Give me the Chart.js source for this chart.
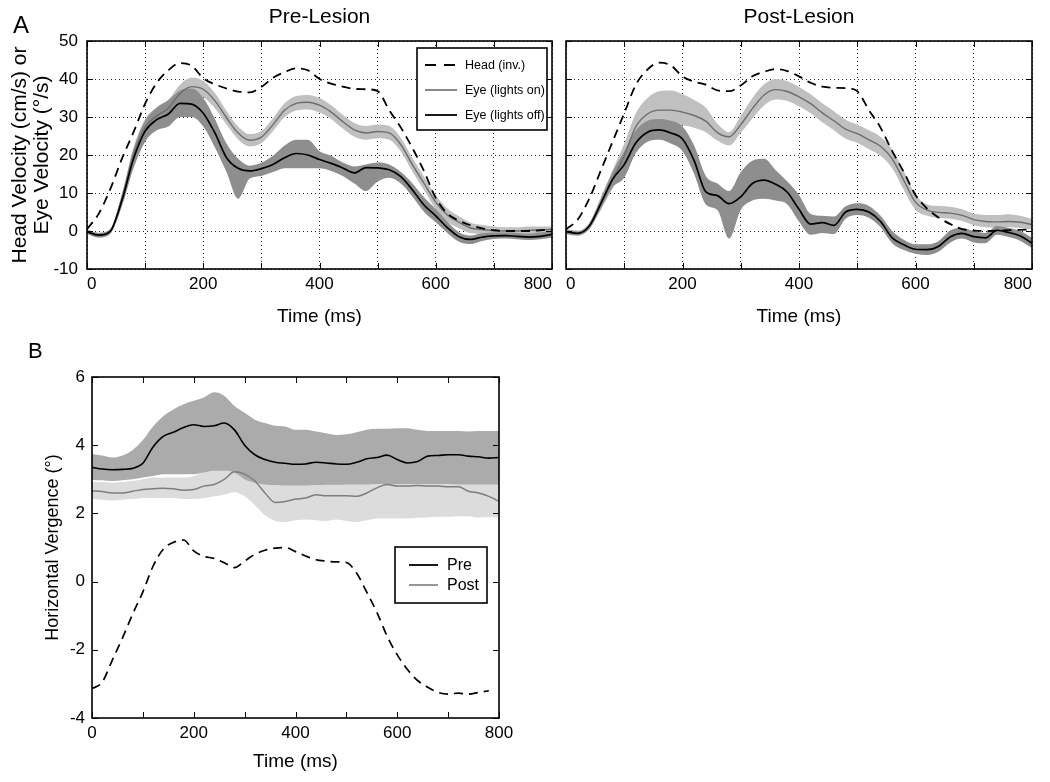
<!DOCTYPE html>
<html>
<head>
<meta charset="utf-8">
<script src="https://cdn.jsdelivr.net/npm/chart.js@4.4.0/dist/chart.umd.min.js"></script>
<style>
  body { margin: 0; background: #fff; }
  #page { position: relative; width: 1050px; height: 782px; overflow: hidden; background: #fff; }
  canvas { position: absolute; }
</style>
</head>
<body>
<div id="page">
  <canvas id="preLesion" width="580" height="345" style="left:0;top:0"></canvas>
  <canvas id="postLesion" width="490" height="345" style="left:560px;top:0"></canvas>
  <canvas id="vergence" width="530" height="452" style="left:0;top:330px"></canvas>
</div>
<script>
// time base (ms), shared by every trace
const timeMs = [0,20,40,60,80,100,120,140,160,180,200,220,240,260,280,300,320,340,360,380,400,
  420,440,460,480,500,520,540,560,580,600,620,640,660,680,700,720,740,760,780,800];

const xTickMs = [0,100,200,300,400,500,600,700,800];
const velTicks = [-10,0,10,20,30,40,50];
const vergTicks = [-4,-2,0,2,4,6];

// ---- panel A, pre-lesion
const preHead = [0.5,4.5,11,19,26,33.5,39,42.3,44.2,43.5, 40.2,38.6,37.5,36.7,36.5,37.9,40.3,41.8,42.8,42.3,
  40,38.8,38,37.4,37.3,36.8,31.8,27.2,21.8,15.7, 8.7,4.6,2.7,1.5,0.7,0.2,0,0,0,0.2, 0.4];
const preEyeOn = [-0.2,-1.1,-0.1,8.5,20,27.3,30.3,32.3,36.2,38, 37.3,34.3,29.8,25.8,23.9,24.7,28,31.8,33.6,33.9,
  33.1,31.3,28.8,26.6,25.8,26.2,25.8,22.7,17.4,12.5, 7.6,4.2,2.3,0.8,0.4,0.1,0,0,0.2,0.3, 0.4];
const preEyeOnUp = [0.4,-0.5,0.5,9.8,22,29.5,32.5,34.5,38.5,40.3, 39.5,36.3,31.6,27.5,25.5,26.3,29.7,33.6,35.5,35.8,
  35,33.1,30.6,28.4,27.6,28,27.6,24.5,19.2,14.3, 9.4,5.9,3.9,2.2,1.6,1.2,1,1,1.2,1.2, 1.2];
const preEyeOnLo = [-0.8,-1.7,-0.7,7.2,18,25,28,30,34,35.8, 35.2,32.3,28,24.1,22.3,23.1,26.3,30,31.7,32,
  31.2,29.5,27,24.8,24,24.4,24,20.9,15.6,10.7, 5.8,2.5,0.7,-0.6,-0.8,-1,-1,-1,-0.8,-0.6, -0.4];
const preEyeOff = [-0.2,-1.1,-0.1,8,19,26.3,29.3,30.8,33.6,33.4, 31,25.8,19.3,16.5,15.8,16.4,17.5,19.3,20.4,20,
  18.8,17.8,16.6,15.3,16.7,16.6,16.1,14.3,10.8,6.8, 4,0.9,-1.5,-2.2,-1.6,-1.3,-1.2,-1.4,-1.6,-1.4, -0.9];
const preEyeOffUp = [0.3,-0.5,0.5,9.5,21.5,29,32.5,34.5,37,37.5, 35,29.5,23,19,17.2,18,19.8,22.5,24,24,
  21,19.8,18,17,17.5,18,17.5,15.5,12.5,8.8, 5.8,2.5,-0.3,-1.2,-0.6,-0.4,-0.4,-0.5,-0.7,-0.4, 0];
const preEyeOffLo = [-0.7,-1.7,-0.7,6.5,16.5,23.5,26.5,27.5,30,30, 27.5,22,15.5,8.5,13.8,14.5,15.5,16.5,16.5,16.5,
  16.5,15.8,14.5,12.5,10.5,13,14,12.5,9,5, 2.3,-0.5,-2.8,-3.4,-2.6,-2.1,-2,-2.2,-2.4,-2.2, -1.7];

// ---- panel A, post-lesion
const postHead = [0.4,3,8.5,16,23.5,31,38.5,42.5,44.3,43.6, 40.7,39.3,38.5,37,36.8,38.3,40.7,41.9,42.6,42.1,
  40.7,39,38,37.7,37.6,36.8,31.8,27.2,21,15.5, 9.5,5.9,3.5,1.8,0.5,0.1,0,0.1,0.2,0.3, 0.4];
const postEyeOn = [-0.2,-0.6,1.3,7.3,13.6,19.8,27.5,30.8,31.8,31.8, 31.3,30.4,28.9,25.9,24.8,28,32.2,35.8,37.2,36.7,
  35.3,33.5,31.1,29,26.8,25.6,24,22.3,19,13.3, 7.6,5.5,4.9,4.7,4.1,3,2.5,2.4,2.5,2.3, 1.7];
const postEyeOnUp = [0.5,0.1,2.2,9,16,23,31,35,36.8,37, 36,34.5,32.5,28.2,26,30.3,35,38.6,40,39.4,
  37.9,36,33.6,31.5,29.3,28,26.5,24.8,21.5,15.8, 9.6,7,6.6,6.4,5.7,4.6,4.2,4.2,4.4,4, 3.2];
const postEyeOnLo = [-0.9,-1.3,0.4,5.6,11.2,17,24.5,27.5,28,28.2, 27.8,27.2,26,23.8,22.5,25.8,29.6,33,34.6,34.2,
  32.8,31,28.6,26.5,24.3,23.2,21.5,19.8,16.5,10.8, 5.6,4,3.4,3.2,2.6,1.5,1,0.9,1,0.8, 0.4];
const postEyeOff = [-0.2,-0.6,1.3,7.3,13.6,17.5,23.2,26,26.6,25.8, 24.2,18.5,10.3,9.3,7.2,9,12.5,13.4,12.3,10.2,
  5.7,1.8,2.2,1.5,5,5.7,5,2.5,-1.8,-3.6, -4.8,-4.9,-4,-1.5,-0.6,-1.5,-1.8,0.2,-0.4,-1.3, -3.2];
const postEyeOffUp = [0.3,-0.1,2,8.5,15.5,21,26.5,29,29.5,29, 27.5,22.5,14.5,12.5,10.5,15.5,18.5,19,16,13,
  9.5,4.5,4,3.8,6.5,7.3,6.6,4,0,-2.3, -3.5,-3.5,-2.6,0.2,0.8,0,-0.5,1.3,0.8,0, -1.8];
const postEyeOffLo = [-0.7,-1.1,0.6,6,11.5,14,20.5,23.5,24,23, 21,15,7,5.5,-2,5.5,8,8.5,8,7,
  2.5,-1,-0.5,-0.8,3.2,4.2,3.5,1,-3.2,-5, -6,-6.3,-5.4,-3,-2,-3,-3.2,-1,-1.6,-2.6, -4.5];

// ---- panel B, vergence
const vergPre = [3.35,3.3,3.28,3.29,3.32,3.47,3.95,4.26,4.38,4.52, 4.6,4.55,4.57,4.65,4.45,4.0,3.72,3.58,3.5,3.47,
  3.44,3.45,3.5,3.48,3.45,3.44,3.5,3.6,3.64,3.71, 3.58,3.48,3.52,3.68,3.7,3.72,3.72,3.68,3.66,3.62, 3.64];
const vergPreUp = [3.74,3.7,3.64,3.7,3.86,4.15,4.55,4.85,5.05,5.2, 5.3,5.4,5.55,5.45,5.15,4.95,4.75,4.65,4.57,4.55,
  4.45,4.45,4.4,4.35,4.3,4.32,4.38,4.45,4.48,4.48, 4.5,4.5,4.45,4.42,4.42,4.42,4.42,4.4,4.42,4.42, 4.42];
const vergPreLo = [2.98,2.97,2.95,2.97,3.0,3.05,3.1,3.15,3.15,3.15, 3.15,3.2,3.25,3.25,3.2,3.0,2.9,2.85,2.83,2.82,
  2.82,2.82,2.83,2.84,2.84,2.85,2.85,2.85,2.86,2.86, 2.86,2.86,2.86,2.86,2.86,2.86,2.85,2.85,2.85,2.85, 2.85];
const vergPost = [2.66,2.64,2.6,2.6,2.65,2.7,2.72,2.74,2.72,2.68, 2.7,2.8,2.85,3.0,3.22,3.15,2.95,2.6,2.32,2.35,
  2.42,2.45,2.55,2.52,2.52,2.52,2.5,2.6,2.75,2.85, 2.8,2.8,2.82,2.8,2.8,2.78,2.78,2.65,2.6,2.5, 2.35];
const vergPostUp = [2.92,2.92,2.9,2.92,2.95,3.0,3.05,3.05,3.05,3.05, 3.1,3.2,3.25,3.35,3.5,3.45,3.3,3.0,2.9,2.9,
  2.95,3.0,3.05,3.05,3.05,3.05,3.05,3.1,3.2,3.3, 3.3,3.3,3.3,3.3,3.3,3.3,3.25,3.2,3.2,3.15, 3.1];
const vergPostLo = [2.42,2.4,2.38,2.4,2.42,2.45,2.45,2.45,2.45,2.42, 2.42,2.45,2.5,2.55,2.62,2.5,2.25,1.95,1.78,1.75,
  1.8,1.82,1.8,1.78,1.82,1.78,1.75,1.8,1.85,1.85, 1.85,1.85,1.87,1.88,1.9,1.9,1.92,1.92,1.88,1.9, 1.88];
const vergHead = [-3.14,-2.95,-2.3,-1.65,-0.95,-0.3,0.45,0.95,1.15,1.22, 0.9,0.74,0.68,0.55,0.41,0.6,0.8,0.92,0.98,1.0,
  0.88,0.75,0.64,0.6,0.58,0.56,0.25,-0.31,-0.9,-1.6, -2.15,-2.58,-2.9,-3.1,-3.25,-3.3,-3.27,-3.3,-3.25,-3.2, null];

const FONT = '"Liberation Sans", Arial, Helvetica, sans-serif';
Chart.defaults.font.family = FONT;
Chart.defaults.color = '#000';

const LIGHT_BAND = '#c0c0c0';
const DARK_BAND = '#8e8e8e';
const GRAY_LINE = '#6c6c6c';
const HEAD_DASH = [9, 6];

const pts = vals => vals.map((v, i) => ({ x: timeMs[i], y: v }));

function band(lo, up, color, order) {
  return [
    { data: pts(lo), borderColor: 'transparent', borderWidth: 0, pointRadius: 0, fill: false, order, cubicInterpolationMode: 'monotone' },
    { data: pts(up), borderColor: 'transparent', borderWidth: 0, pointRadius: 0, fill: '-1', backgroundColor: color, order, cubicInterpolationMode: 'monotone' }
  ];
}

function trace(vals, color, width, order, dash) {
  return { data: pts(vals), borderColor: color, borderWidth: width, borderDash: dash || [], pointRadius: 0,
           fill: false, order, cubicInterpolationMode: 'monotone' };
}

// frame, inward ticks, legend box and loose text
const decor = {
  id: 'decor',
  afterDatasetsDraw(chart, args, o) {
    const { ctx, chartArea: a, scales: { x, y } } = chart;
    ctx.save();
    ctx.strokeStyle = '#000';
    ctx.lineWidth = 1;
    ctx.setLineDash([]);
    ctx.beginPath();
    o.xTicks.forEach(v => {
      const px = Math.round(x.getPixelForValue(v)) + 0.5;
      ctx.moveTo(px, a.top); ctx.lineTo(px, a.top + o.tick);
      ctx.moveTo(px, a.bottom); ctx.lineTo(px, a.bottom - o.tick);
    });
    o.yTicks.forEach(v => {
      const py = Math.round(y.getPixelForValue(v)) + 0.5;
      ctx.moveTo(a.left, py); ctx.lineTo(a.left + o.tick, py);
      ctx.moveTo(a.right, py); ctx.lineTo(a.right - o.tick, py);
    });
    ctx.stroke();
    ctx.lineWidth = 1.6;
    ctx.strokeRect(a.left, a.top, a.right - a.left, a.bottom - a.top);

    if (o.legend) {
      const L = o.legend;
      ctx.fillStyle = '#fff';
      ctx.fillRect(L.box[0], L.box[1], L.box[2], L.box[3]);
      ctx.lineWidth = 1.6;
      ctx.strokeStyle = '#000';
      ctx.strokeRect(L.box[0], L.box[1], L.box[2], L.box[3]);
      ctx.font = L.font;
      ctx.textBaseline = 'middle';
      ctx.textAlign = 'left';
      L.items.forEach(it => {
        ctx.strokeStyle = it.color;
        ctx.lineWidth = it.width;
        ctx.setLineDash(it.dash || []);
        ctx.beginPath();
        ctx.moveTo(L.x0, it.y); ctx.lineTo(L.x1, it.y);
        ctx.stroke();
        ctx.setLineDash([]);
        ctx.fillStyle = '#000';
        ctx.fillText(it.label, L.tx, it.y + 1);
      });
    }

    (o.texts || []).forEach(t => {
      ctx.font = t.font;
      ctx.fillStyle = '#000';
      ctx.textAlign = t.align || 'center';
      ctx.textBaseline = t.baseline || 'middle';
      ctx.fillText(t.text, t.x, t.y);
    });
    ctx.restore();
  }
};

function xAxis(height, titlePad, withGrid, align) {
  return {
    type: 'linear', min: 0, max: 800,
    ticks: { stepSize: 100, autoSkip: false, maxRotation: 0, padding: 5, align, font: { size: 17 },
             callback: v => (v % 200 === 0 ? String(v) : '') },
    grid: { display: withGrid, color: '#222', lineWidth: 1, drawTicks: false },
    border: { display: false, dash: [1, 3] },
    title: { display: true, text: 'Time (ms)', font: { size: 19 }, padding: { top: 0, bottom: titlePad } },
    afterFit: s => { s.height = height; s.paddingLeft = 0; s.paddingRight = 0; }
  };
}

function yAxis(width, min, max, step, showLabels, title, titleSize, titlePad, tickPad, withGrid) {
  return {
    type: 'linear', min, max,
    ticks: { stepSize: step, display: showLabels, padding: tickPad, font: { size: 17 } },
    grid: { display: withGrid, color: '#222', lineWidth: 1, drawTicks: false },
    border: { display: false, dash: [1, 3] },
    title: { display: !!title, text: title, font: { size: titleSize, lineHeight: 22 / titleSize },
             padding: { top: titlePad, bottom: 0 } },
    afterFit: s => { s.width = width; s.paddingTop = 0; s.paddingBottom = 0; }
  };
}

function velocityDatasets(head, on, onUp, onLo, off, offUp, offLo) {
  return [
    ...band(onLo, onUp, LIGHT_BAND, 6),
    ...band(offLo, offUp, DARK_BAND, 5),
    trace(on, GRAY_LINE, 1.4, 2),
    trace(off, '#000', 1.7, 1),
    trace(head, '#000', 1.8, 0, HEAD_DASH)
  ];
}

const common = { responsive: false, animation: false, events: [], normalized: true };

new Chart(document.getElementById('preLesion'), {
  type: 'line',
  data: { datasets: velocityDatasets(preHead, preEyeOn, preEyeOnUp, preEyeOnLo, preEyeOff, preEyeOffUp, preEyeOffLo) },
  options: {
    ...common,
    layout: { autoPadding: false, padding: { top: 41, right: 28, bottom: 0, left: 0 } },
    plugins: {
      legend: { display: false }, tooltip: { enabled: false },
      decor: {
        xTicks: xTickMs, yTicks: velTicks, tick: 6,
        legend: {
          box: [417, 48, 130, 82], x0: 425, x1: 457, tx: 465, font: '12.5px ' + FONT,
          items: [
            { label: 'Head (inv.)', y: 65, color: '#000', width: 1.8, dash: [11, 8] },
            { label: 'Eye (lights on)', y: 90, color: GRAY_LINE, width: 1.6 },
            { label: 'Eye (lights off)', y: 115, color: '#000', width: 1.8 }
          ]
        },
        texts: [
          { text: 'Pre-Lesion', x: 319.5, y: 17, font: '21px ' + FONT },
          { text: 'A', x: 13, y: 33, font: '24px ' + FONT, align: 'left', baseline: 'alphabetic' }
        ]
      }
    },
    scales: {
      x: xAxis(76, 17, true, 'inner'),
      y: yAxis(87, -10, 50, 10, true, ['Head Velocity (cm/s) or', 'Eye Velocity (\u00b0/s)'], 21, 9, 9, true)
    }
  },
  plugins: [decor]
});

new Chart(document.getElementById('postLesion'), {
  type: 'line',
  data: { datasets: velocityDatasets(postHead, postEyeOn, postEyeOnUp, postEyeOnLo, postEyeOff, postEyeOffUp, postEyeOffLo) },
  options: {
    ...common,
    layout: { autoPadding: false, padding: { top: 41, right: 18, bottom: 0, left: 0 } },
    plugins: {
      legend: { display: false }, tooltip: { enabled: false },
      decor: {
        xTicks: xTickMs, yTicks: velTicks, tick: 6,
        texts: [ { text: 'Post-Lesion', x: 239, y: 17, font: '21px ' + FONT } ]
      }
    },
    scales: {
      x: xAxis(76, 17, true, 'inner'),
      y: yAxis(6, -10, 50, 10, false, '', 20, 0, 0, true)
    }
  },
  plugins: [decor]
});

new Chart(document.getElementById('vergence'), {
  type: 'line',
  data: {
    datasets: [
      ...band(vergPostLo, vergPostUp, '#dcdcdc', 6),
      ...band(vergPreLo, vergPreUp, '#ababab', 5),
      trace(vergPost, '#7d7d7d', 1.5, 2),
      trace(vergPre, '#000', 1.6, 1),
      trace(vergHead, '#000', 1.7, 0, HEAD_DASH)
    ]
  },
  options: {
    ...common,
    layout: { autoPadding: false, padding: { top: 47, right: 31, bottom: 0, left: 0 } },
    plugins: {
      legend: { display: false }, tooltip: { enabled: false },
      decor: {
        xTicks: xTickMs, yTicks: vergTicks, tick: 6,
        legend: {
          box: [395, 217, 92, 56], x0: 409, x1: 438, tx: 447, font: '16px ' + FONT,
          items: [
            { label: 'Pre', y: 235, color: '#000', width: 1.8 },
            { label: 'Post', y: 255, color: '#7d7d7d', width: 1.6 }
          ]
        },
        texts: [ { text: 'B', x: 28, y: 28, font: '22px ' + FONT, align: 'left', baseline: 'alphabetic' } ]
      }
    },
    scales: {
      x: xAxis(64, 9, false, 'center'),
      y: yAxis(92, -4, 6, 2, true, 'Horizontal Vergence (\u00b0)', 18, 42, 7, false)
    }
  },
  plugins: [decor]
});
</script>
</body>
</html>
